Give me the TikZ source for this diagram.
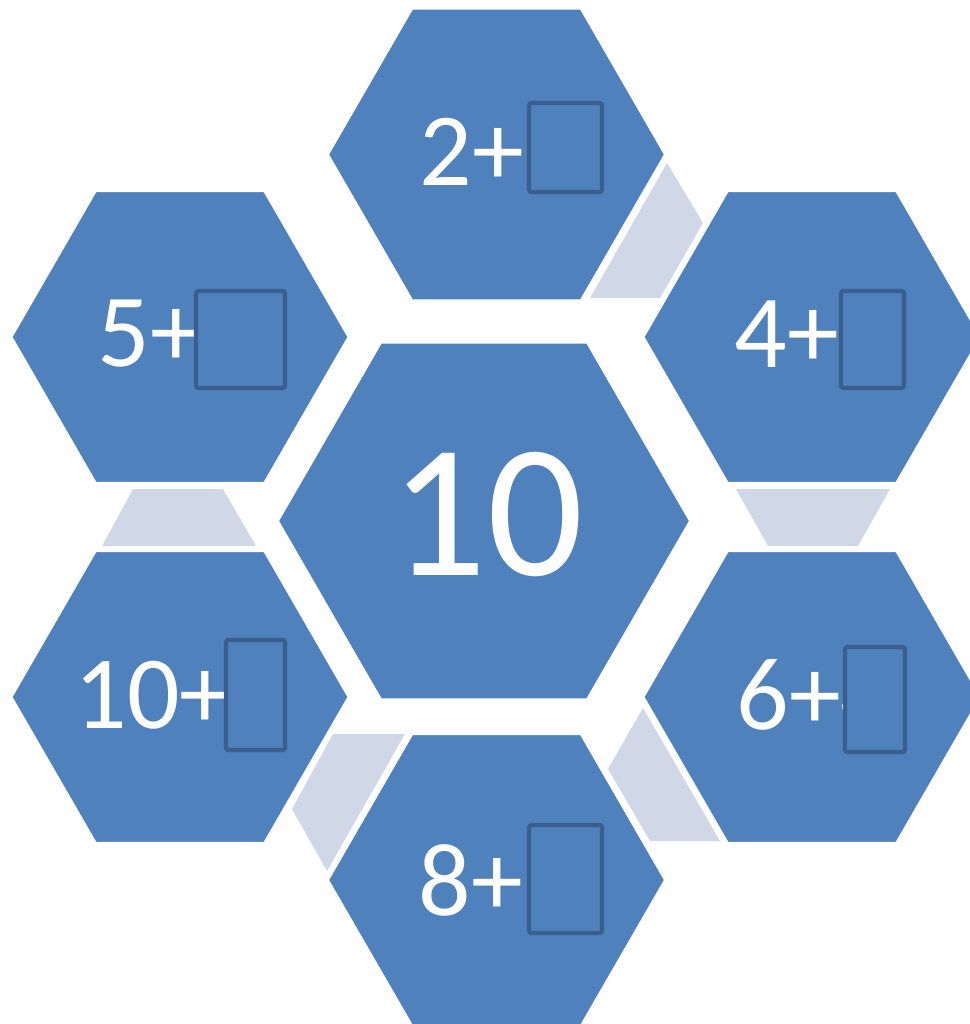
\documentclass[tikz,border=0pt]{standalone}
\usepackage{fontspec}
\setmainfont{Carlito}
\usetikzlibrary{positioning, shapes.geometric}
\definecolor{hexblue}{HTML}{4F81BD}
\definecolor{connfill}{HTML}{D0D8E8}
\definecolor{boxline}{HTML}{3A5F8E}
\begin{document}
\begin{tikzpicture}[
        x=0.01cm, y=-0.01cm,
        hexa/.style={regular polygon, regular polygon sides=6, fill=hexblue, draw=white, line width=0.6pt, inner sep=0pt, outer sep=0pt, minimum size=3.37cm},
        bighexa/.style={hexa, minimum size=4.12cm},
        conn/.style={fill=connfill},
        blank/.style={fill=hexblue, draw=boxline, line width=1.15pt, rounded corners=0.6pt},
        numlabel/.style={text=white, inner sep=0pt, font=\fontsize{29.5}{33}\selectfont}
    ]
    \useasboundingbox (0,0) rectangle (970,1024);
    \clip (0,0) rectangle (970,1024);

    % Connectors between outer hexagons
    \fill[conn] (590,298) -- (667,163) -- (703,223) -- (660,298) -- cycle;
    \fill[conn] (736,489) -- (890,489) -- (858,546) -- (768,546) -- cycle;
    \fill[conn] (643,708) -- (608,769) -- (650,841) -- (720,841) -- cycle;
    \fill[conn] (333,734) -- (405,734) -- (327,871) -- (292,809) -- cycle;
    \fill[conn] (133,489) -- (223,489) -- (256,546) -- (102,546) -- cycle;

    % Hexagons
    \node[bighexa] (H0)  at (484,521)   {};
    \node[hexa]    (H2)  at (496.5,154.5) {};
    \node[hexa]    (H4)  at (812,337)   {};
    \node[hexa]    (H6)  at (812,697)   {};
    \node[hexa]    (H8)  at (496.5,880) {};
    \node[hexa]    (H10) at (180,697)   {};
    \node[hexa]    (H5)  at (180,337)   {};

    % Labels
    \node[numlabel, font=\fontsize{54}{58}\selectfont] (L0) at (487,515) {10};
    \node[numlabel] (L2)  at (472,152) {2+};
    \node[numlabel] (L4)  at (787,334) {4+};
    \node[numlabel, anchor=west] (L6) at (736,695) {6+4};
    \node[numlabel] (L8)  at (471,880) {8+};
    \node[numlabel] (L10) at (153,695) {10+};
    \node[numlabel] (L5)  at (150,334) {5+};

    % Answer boxes
    \filldraw[blank] (529,103) rectangle (602,192);
    \filldraw[blank] (841,291) rectangle (904,388);
    \filldraw[blank] (845,647) rectangle (905,752);
    \filldraw[blank] (529,825) rectangle (602,933);
    \filldraw[blank] (226,640) rectangle (285,750);
    \filldraw[blank] (196,291) rectangle (285,388);

    \end{tikzpicture}
\end{document}
